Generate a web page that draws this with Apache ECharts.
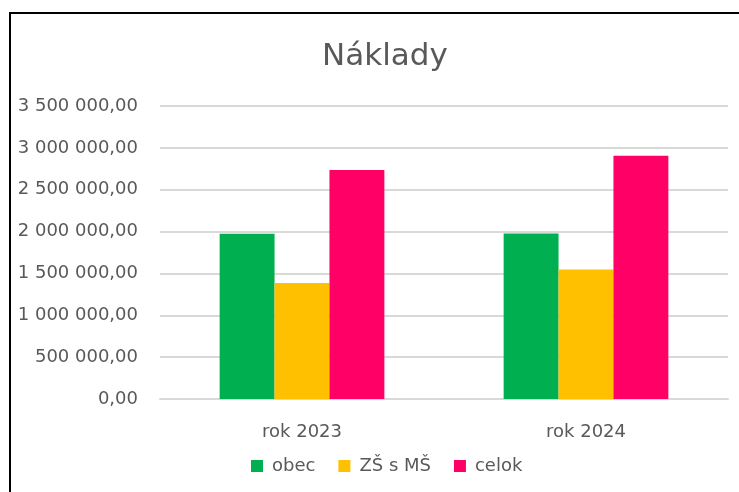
<!DOCTYPE html>
<html>
<head>
<meta charset="utf-8">
<script src="https://cdn.jsdelivr.net/npm/echarts@6/dist/echarts.min.js"></script>
<style>
  html, body { margin: 0; padding: 0; background: #fff; overflow: hidden; }
  #frame { position: absolute; left: 9px; top: 12px; width: 728px; height: 480px; border-left: 2px solid #000; border-top: 2px solid #000; }
  #chart { position: absolute; left: 0; top: 0; width: 739px; height: 492px; }
</style>
</head>
<body>
<div id="frame"></div>
<div id="chart"></div>
<script>
// hodnoty odčítané z grafu
var categories = ['rok 2023', 'rok 2024'];
var seriesNames = ['obec', 'ZŠ s MŠ', 'celok'];
var obec = [1975000, 1976000];
var zsms = [1385000, 1548000];
var celok = [2735000, 2905000];
var colors = ['#00B050', '#FFC000', '#FF0066'];

function fmt(v) {
    var s = Math.round(v).toString().replace(/\B(?=(\d{3})+(?!\d))/g, ' ');
    return s + ',00';
}

var font = 'DejaVu Sans';
var myChart = echarts.init(document.getElementById('chart'));
myChart.setOption({
    animation: false,
    title: {
        text: 'Náklady',
        left: 380,
        textAlign: 'center',
        top: 36,
        textStyle: { color: '#595959', fontSize: 31, fontWeight: 'normal', fontFamily: font }
    },
    legend: {
        data: seriesNames,
        left: 246,
        top: 452,
        itemWidth: 12,
        itemHeight: 12,
        itemGap: 23,
        icon: 'rect',
        textStyle: { color: '#595959', fontSize: 18, fontFamily: font, padding: [0, 0, 0, 4] }
    },
    grid: { left: 160, right: 11, top: 106, bottom: 93 },
    xAxis: {
        type: 'category',
        data: categories,
        axisLine: { lineStyle: { color: '#d9d9d9', width: 2 } },
        axisTick: { show: false },
        axisLabel: { color: '#595959', fontSize: 18, fontFamily: font, margin: 24 }
    },
    yAxis: {
        type: 'value',
        min: 0,
        max: 3500000,
        interval: 500000,
        axisLine: { show: false },
        axisTick: { show: false },
        splitLine: { lineStyle: { color: '#d9d9d9', width: 2 } },
        axisLabel: { color: '#595959', fontSize: 18, fontFamily: font, margin: 22, formatter: fmt }
    },
    series: [
        { name: seriesNames[0], type: 'bar', data: obec, barGap: 0, barCategoryGap: '42%', itemStyle: { color: colors[0] } },
        { name: seriesNames[1], type: 'bar', data: zsms, barGap: 0, barCategoryGap: '42%', itemStyle: { color: colors[1] } },
        { name: seriesNames[2], type: 'bar', data: celok, barGap: 0, barCategoryGap: '42%', itemStyle: { color: colors[2] } }
    ]
});
</script>
</body>
</html>
